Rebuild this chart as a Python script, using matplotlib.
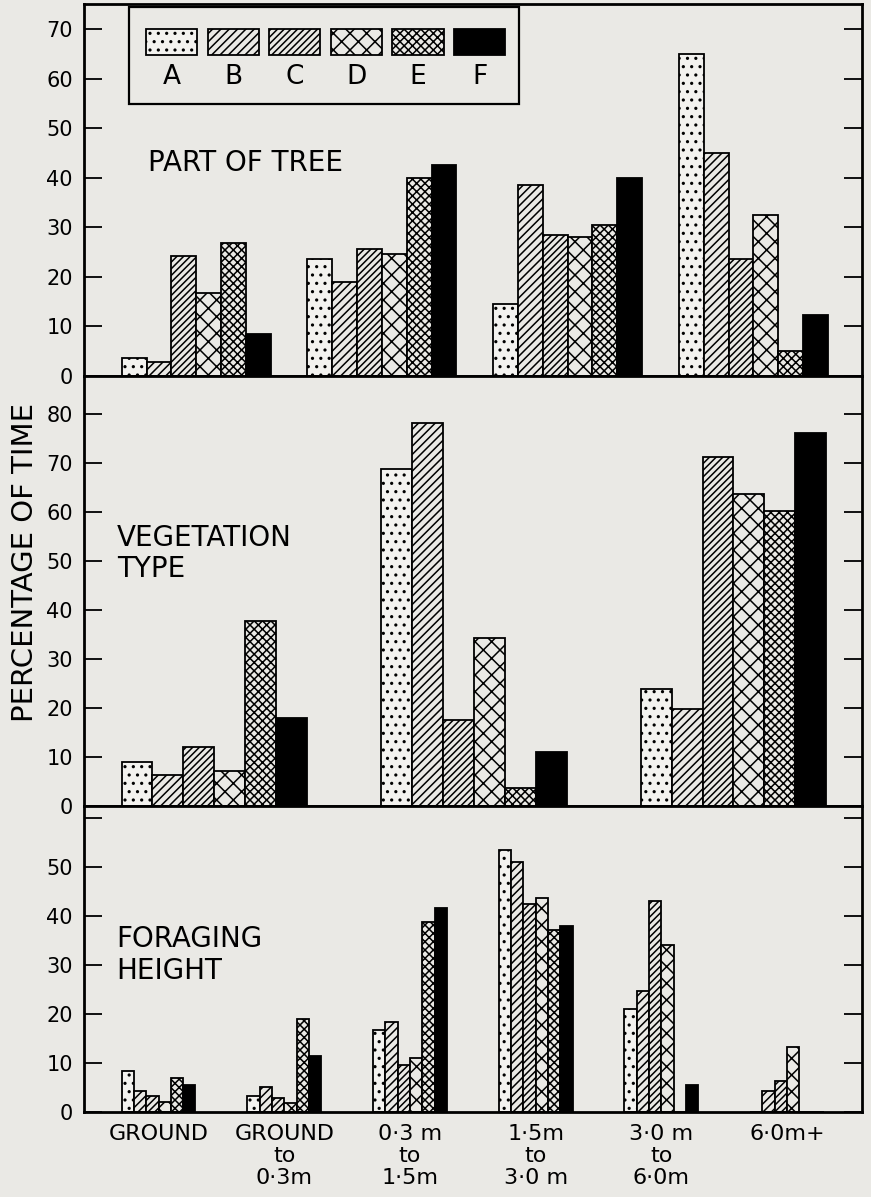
import matplotlib
matplotlib.use("Agg")
import matplotlib.pyplot as plt
from matplotlib.patches import Rectangle
import numpy as np

# series A-F, each row is one series
series = ["A", "B", "C", "D", "E", "F"]
hatches = ["..", "////", "/////", "xx", "xxxx", ""]
fills = ["#f3f2ef", "#eae9e5", "#eae9e5", "#eae9e5", "#eae9e5", "black"]

tree_parts = ["TRUNK", "CENTER", "MIDDLE", "OUTER"]
tree_pct = [
    [3.7, 23.6, 14.5, 65.0],   # A
    [2.8, 19.0, 38.5, 45.0],   # B
    [24.2, 25.7, 28.5, 23.6],  # C
    [16.8, 24.6, 28.0, 32.5],  # D
    [26.8, 40.0, 30.5, 5.0],   # E
    [8.4, 42.5, 40.0, 12.3],   # F
]

veg_types = ["DECIDUOUS", "GREEN", "NONGREEN"]
veg_pct = [
    [9.0, 68.9, 23.8],
    [6.3, 78.2, 19.9],
    [12.1, 17.5, 71.3],
    [7.1, 34.4, 63.8],
    [37.8, 3.6, 60.3],
    [17.9, 11.1, 76.1],
]

heights = ["GROUND", "GROUND\nto\n0\u00b73m", "0\u00b73 m\nto\n1\u00b75m",
           "1\u00b75m\nto\n3\u00b70 m", "3\u00b70 m\nto\n6\u00b70m", "6\u00b70m+"]
height_pct = [
    [8.4, 3.3, 16.7, 53.5, 21.0, 0.0],
    [4.3, 5.0, 18.3, 50.9, 24.7, 4.3],
    [3.3, 2.9, 9.6, 42.4, 43.1, 6.3],
    [2.1, 1.8, 11.1, 43.7, 34.1, 13.2],
    [7.0, 18.9, 38.8, 37.1, 0.0, 0.0],
    [5.5, 11.5, 41.7, 38.0, 5.5, 0.0],
]

bg = "#eae9e5"
plt.rcParams["font.family"] = ["DejaVu Sans"]
plt.rcParams["hatch.linewidth"] = 1.1

fig = plt.figure(figsize=(8.71, 11.97), dpi=100)
fig.patch.set_facecolor(bg)

left, width = 84 / 871, 778 / 871
ax1 = fig.add_axes([left, 1 - 376 / 1197, width, 372 / 1197])
ax2 = fig.add_axes([left, 1 - 806 / 1197, width, 430 / 1197])
ax3 = fig.add_axes([left, 1 - 1112 / 1197, width, 306 / 1197])


def draw_panel(ax, cats, data, bar_w, xlim, ylim, yticks, ylabels):
    x = np.arange(len(cats))
    for i, s in enumerate(series):
        ax.bar(x + (i - 2.5) * bar_w, data[i], width=bar_w, facecolor=fills[i],
               edgecolor="black", hatch=hatches[i], linewidth=1.3)
    ax.set_facecolor(bg)
    ax.set_xlim(*xlim)
    ax.set_ylim(*ylim)
    ax.set_xticks(x)
    ax.set_xticklabels(cats, fontsize=16, linespacing=1.1)
    ax.tick_params(axis="x", length=0, pad=8)
    ax.set_yticks(yticks)
    ax.set_yticklabels(ylabels, fontsize=15)
    ax.tick_params(axis="y", direction="in", length=13, width=1.3,
                   right=True, pad=8)
    for sp in ax.spines.values():
        sp.set_linewidth(2)


draw_panel(ax1, tree_parts, tree_pct, 0.1336, (-0.604, 3.585), (0, 75.1),
           range(0, 80, 10), [str(v) for v in range(0, 80, 10)])
draw_panel(ax2, veg_types, veg_pct, 0.119, (-0.5015, 2.495), (0, 87.8),
           range(0, 90, 10), [str(v) for v in range(0, 90, 10)])
draw_panel(ax3, heights, height_pct, 0.0979, (-0.593, 5.596), (0, 62.4),
           range(0, 70, 10), [str(v) for v in range(0, 60, 10)] + [""])
ax3.tick_params(axis="x", pad=9)

# panel titles
ax1.text(0.082, 43, "PART OF TREE", fontsize=20, va="center",
         transform=ax1.get_yaxis_transform())
ax2.text(0.042, 51.5, "VEGETATION\nTYPE", fontsize=20, va="center",
         linespacing=1.15, transform=ax2.get_yaxis_transform())
ax3.text(0.042, 32, "FORAGING\nHEIGHT", fontsize=20, va="center",
         linespacing=1.15, transform=ax3.get_yaxis_transform())

fig.text(25 / 871, 1 - 562 / 1197, "PERCENTAGE OF TIME", rotation=90,
         fontsize=21, ha="center", va="center")

# legend box drawn by hand: patches above letters
ax1.add_patch(Rectangle((0.0582, 0.731), 0.5013, 0.2617, transform=ax1.transAxes,
                        facecolor=bg, edgecolor="black", linewidth=1.6, zorder=5))
for i, s in enumerate(series):
    x0 = 0.0797 + i * 0.0792
    ax1.add_patch(Rectangle((x0, 0.863), 0.0656, 0.069, transform=ax1.transAxes,
                            facecolor=fills[i], edgecolor="black",
                            hatch=hatches[i], linewidth=1.3, zorder=6))
    ax1.text(x0 + 0.0328, 0.8046, s, transform=ax1.transAxes, fontsize=19,
             ha="center", va="center", zorder=6)

fig.savefig("out.png", dpi=100, facecolor=bg)
